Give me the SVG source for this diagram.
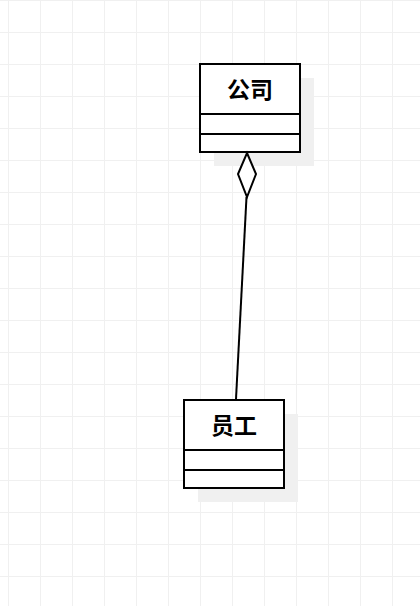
<svg xmlns="http://www.w3.org/2000/svg" width="420" height="606" viewBox="0 0 420 606">
<defs>
<pattern id="grid" x="8" y="0" width="32" height="32" patternUnits="userSpaceOnUse">
<path d="M0.5 0V32M0 0.5H32" fill="none" stroke="#f0f0f0" stroke-width="1"/>
</pattern>
<style>
.box{fill:#fff;stroke:#000;stroke-width:2}
.sep{stroke:#000;stroke-width:2}
.shadow{fill:#f0f0f0}
.lbl{font-family:"Noto Sans CJK SC","Noto Sans",sans-serif;font-size:23px;font-weight:bold;text-anchor:middle;fill:#000}
</style>
</defs>
<rect width="420" height="606" fill="#fff"/>
<rect width="420" height="606" fill="url(#grid)"/>
<g id="company">
<rect class="shadow" x="214" y="78" width="100" height="88"/>
<rect class="box" x="200" y="64" width="100" height="88"/>
<line class="sep" x1="200" y1="114" x2="300" y2="114"/>
<line class="sep" x1="200" y1="134" x2="300" y2="134"/>
<text class="lbl" x="250" y="98">公司</text>
</g>
<g id="employee">
<rect class="shadow" x="198" y="414" width="100" height="88"/>
<rect class="box" x="184" y="400" width="100" height="88"/>
<line class="sep" x1="184" y1="450" x2="284" y2="450"/>
<line class="sep" x1="184" y1="470" x2="284" y2="470"/>
<text class="lbl" x="234" y="434">员工</text>
</g>
<g id="connectors">
<path d="M246.5 197L236 399" fill="none" stroke="#000" stroke-width="2"/>
<path d="M247 153L256 174L247 197L238 174Z" fill="#fff" stroke="#000" stroke-width="2"/>
</g>
</svg>
